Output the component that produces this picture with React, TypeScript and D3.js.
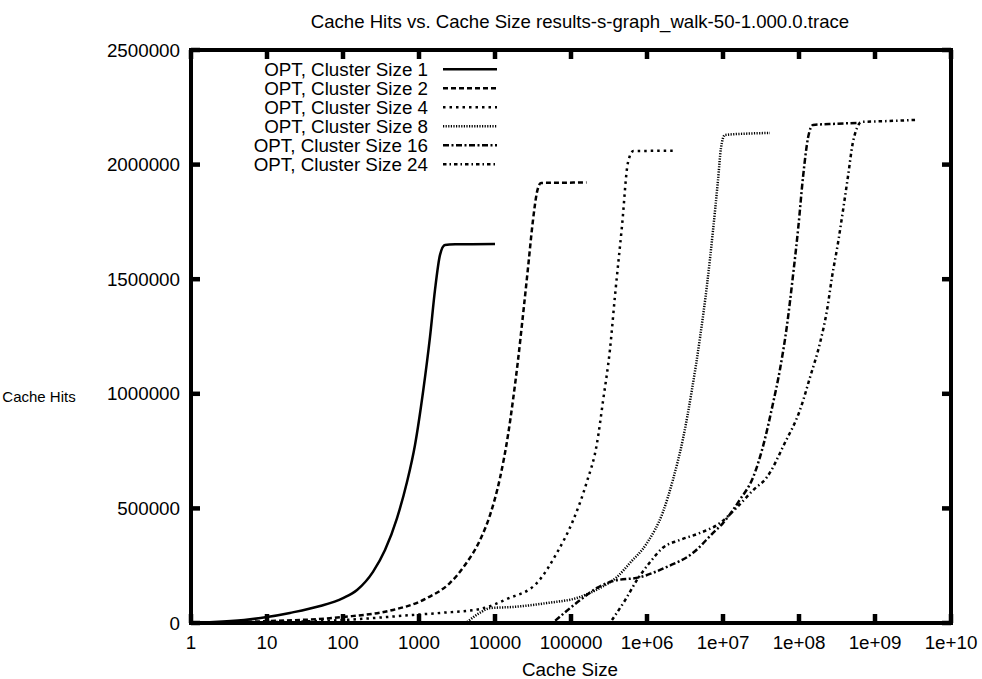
import React from "react";
import * as d3 from "d3";

// Cache size (x) and cache hits (y) per cluster size
const clusterSizes = [1, 2, 4, 8, 16, 24];

const sizes1 = [1, 2, 5, 10, 20, 50, 100, 153, 248, 357, 514, 695, 886, 1130, 1396, 1624, 1890, 2198, 3000, 5000, 10000];
const hits1 = [1000, 4000, 13000, 26000, 44000, 74000, 109000, 144000, 223000, 318000, 458000, 615000, 777000, 1008000, 1248000, 1453000, 1606000, 1649000, 1652000, 1653000, 1654000];

const sizes2 = [1, 10, 100, 455, 1000, 1274, 2560, 4030, 6350, 8600, 11640, 14830, 17260, 20090, 23360, 27180, 31620, 35700, 40300, 80000, 160000];
const hits2 = [1000, 8000, 26000, 57000, 92000, 109000, 175000, 253000, 362000, 471000, 633000, 820000, 973000, 1147000, 1344000, 1549000, 1758000, 1880000, 1920000, 1921000, 1922000];

const sizes4 = [1, 10, 100, 830, 1900, 6300, 14400, 35700, 65000, 107000, 160000, 220000, 265000, 325000, 380000, 470000, 560000, 660000, 1200000, 2340000];
const hits4 = [500, 4000, 13000, 35000, 44000, 61000, 105000, 175000, 305000, 449000, 611000, 785000, 973000, 1191000, 1431000, 1736000, 2007000, 2059000, 2060000, 2061000];

const sizes8 = [4300, 6300, 8600, 17300, 48000, 130000, 240000, 400000, 597000, 1.0e6, 1.62e6, 2.19e6, 2.95e6, 3.9e6, 5.0e6, 6.2e6, 7.4e6, 8.6e6, 9.4e6, 1.06e7, 2e7, 4.15e7];
const hits8 = [4000, 44000, 65000, 70000, 87000, 113000, 153000, 200000, 262000, 349000, 484000, 624000, 798000, 1017000, 1248000, 1483000, 1715000, 1933000, 2072000, 2129000, 2135000, 2138000];

const sizes16 = [62000, 132000, 220000, 357000, 810000, 1.8e6, 4.0e6, 7.4e6, 1.0e7, 1.66e7, 2.5e7, 3.4e7, 4.5e7, 5.6e7, 6.9e7, 8.3e7, 9.8e7, 1.13e8, 1.32e8, 1.53e8, 3e8, 6.3e8];
const hits16 = [10000, 100000, 153000, 183000, 200000, 244000, 305000, 393000, 436000, 537000, 637000, 777000, 951000, 1104000, 1291000, 1510000, 1728000, 1946000, 2120000, 2173000, 2178000, 2182000];

const sizes24 = [346000, 516000, 740000, 1.1e6, 1.6e6, 2.7e6, 5.0e6, 9.1e6, 1.5e7, 2.5e7, 3.8e7, 6.5e7, 1.03e8, 1.4e8, 1.89e8, 2.34e8, 2.72e8, 3.26e8, 3.8e8, 4.4e8, 5.1e8, 5.8e8, 6.6e8, 1.5e9, 3.4e9];
const hits24 = [13000, 100000, 188000, 266000, 327000, 362000, 393000, 436000, 502000, 580000, 637000, 785000, 929000, 1073000, 1222000, 1366000, 1510000, 1658000, 1802000, 1946000, 2094000, 2160000, 2186000, 2190000, 2195000];

const xTickValues = [1, 10, 100, 1000, 10000, 100000, 1e6, 1e7, 1e8, 1e9, 1e10];
const xTickLabels = ["1", "10", "100", "1000", "10000", "100000", "1e+06", "1e+07", "1e+08", "1e+09", "1e+10"];
const yTickValues = [0, 500000, 1000000, 1500000, 2000000, 2500000];

const titleText = "Cache Hits vs. Cache Size results-s-graph_walk-50-1.000.0.trace";

const seriesSizes = [sizes1, sizes2, sizes4, sizes8, sizes16, sizes24];
const seriesHits = [hits1, hits2, hits4, hits8, hits16, hits24];
const dashes = ["none", "5,3", "2.5,4", "1.2,1.4", "6,2.5,2,2.5", "3.5,3,1.5,3"];

const W = 982;
const H = 679;
const left = 191;
const right = 951;
const top = 50;
const bottom = 623;
const font = "'Liberation Sans', Arial, Helvetica, sans-serif";
const fs = 18.8;

export default function App() {
  const x = d3.scaleLog().domain([1, 1e10]).range([left, right]);
  const y = d3.scaleLinear().domain([0, 2500000]).range([bottom, top]);

  const line = d3
    .line<[number, number]>()
    .x((d) => x(d[0]))
    .y((d) => y(d[1]))
    .curve(d3.curveMonotoneX);

  const tickLen = 9;

  return (
    <div style={{ position: "absolute", left: 0, top: 0 }}>
      <svg width={W} height={H} style={{ display: "block", background: "#fff" }} fontFamily={font}>
        <rect x={0} y={0} width={W} height={H} fill="#fff" />
        <defs>
          <clipPath id="plotArea">
            <rect x={left} y={top} width={right - left} height={bottom - top} />
          </clipPath>
        </defs>

        {/* title */}
        <text x={580} y={28} fontSize={18.6} textAnchor="middle" fill="#000">
          {titleText}
        </text>

        {/* curves */}
        <g clipPath="url(#plotArea)">
          {seriesSizes.map((sz, i) => {
            const pts = sz.map((s, j) => [s, seriesHits[i][j]] as [number, number]);
            return (
              <path
                key={i}
                d={line(pts) || ""}
                fill="none"
                stroke="#000"
                strokeWidth={2.5}
                strokeDasharray={dashes[i]}
                strokeLinecap="butt"
                strokeLinejoin="round"
              />
            );
          })}
        </g>

        {/* frame */}
        <rect x={left} y={top} width={right - left} height={bottom - top} fill="none" stroke="#000" strokeWidth={4} />

        {/* x ticks */}
        {xTickValues.map((v, i) => (
          <g key={"xt" + i}>
            <line x1={x(v)} x2={x(v)} y1={bottom} y2={bottom - tickLen} stroke="#000" strokeWidth={4.5} />
            <line x1={x(v)} x2={x(v)} y1={top} y2={top + tickLen} stroke="#000" strokeWidth={4.5} />
            <text x={x(v)} y={649} fontSize={fs} textAnchor="middle" fill="#000">
              {xTickLabels[i]}
            </text>
          </g>
        ))}

        {/* y ticks */}
        {yTickValues.map((v, i) => (
          <g key={"yt" + i}>
            <line x1={left} x2={left + tickLen} y1={y(v)} y2={y(v)} stroke="#000" strokeWidth={4.5} />
            <line x1={right} x2={right - tickLen} y1={y(v)} y2={y(v)} stroke="#000" strokeWidth={4.5} />
            <text x={180} y={y(v) + 6.5} fontSize={fs} textAnchor="end" fill="#000">
              {String(v)}
            </text>
          </g>
        ))}

        {/* axis labels */}
        <text x={570} y={676} fontSize={fs} textAnchor="middle" fill="#000">
          Cache Size
        </text>
        <text x={39} y={402} fontSize={15} textAnchor="middle" fill="#000">
          Cache Hits
        </text>

        {/* legend */}
        {clusterSizes.map((c, i) => {
          const cy = 69.3 + i * 19;
          return (
            <g key={"lg" + i}>
              <text x={428} y={cy + 6.5} fontSize={fs} textAnchor="end" fill="#000">
                {`OPT, Cluster Size ${c}`}
              </text>
              <line
                x1={443}
                x2={497}
                y1={cy}
                y2={cy}
                stroke="#000"
                strokeWidth={2.5}
                strokeDasharray={dashes[i]}
              />
            </g>
          );
        })}
      </svg>
    </div>
  );
}
